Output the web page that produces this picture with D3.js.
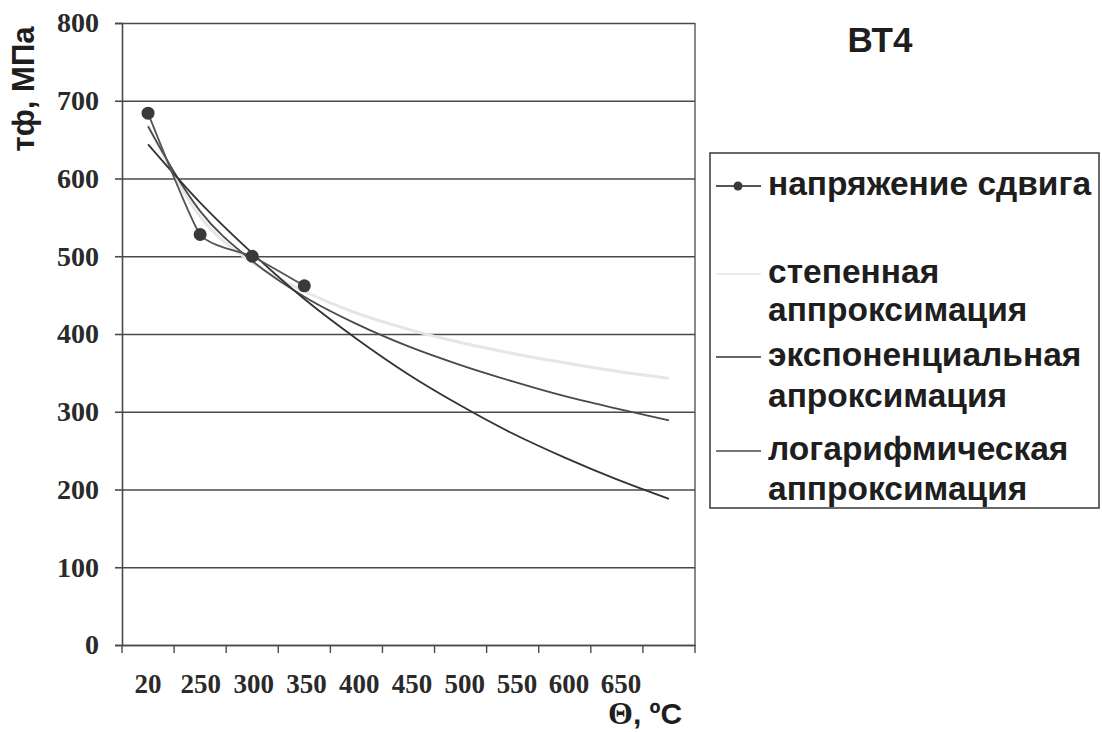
<!DOCTYPE html>
<html>
<head>
<meta charset="utf-8">
<script src="https://cdn.jsdelivr.net/npm/d3@7"></script>
<style>
  html, body { margin: 0; padding: 0; background: #fff; }
  svg { display: block; }
</style>
</head>
<body>
<svg id="chart" width="1102" height="732"></svg>
<script>
// ---- data ----
const categories = ["20", "250", "300", "350", "400", "450", "500", "550", "600", "650", ""];
const shearStress = [684, 528, 500, 462];              // напряжение сдвига (first 4 categories)
const powerTrend  = [668, 551, 492, 455, 427, 406, 389, 375, 363, 352, 343];   // степенная
const expTrend    = [644, 569, 504, 445, 394, 348, 308, 272, 241, 213, 188];   // экспоненциальная
const logTrend    = [667, 558, 494, 448, 413, 384, 360, 339, 320, 304, 289];   // логарифмическая
const yTicks = [0, 100, 200, 300, 400, 500, 600, 700, 800];
const legendItems = [
  { lines: ["напряжение сдвига"], kind: "data" },
  { lines: ["степенная", "аппроксимация"], kind: "power" },
  { lines: ["экспоненциальная", "апроксимация"], kind: "exp" },
  { lines: ["логарифмическая", "аппроксимация"], kind: "log" }
];
const titleText = "ВТ4";
const yTitle = "тф, МПа";

// ---- layout ----
const svg = d3.select("#chart");
const L = 122, R = 695, T = 23, B = 645;
const x = d3.scaleBand().domain(categories).range([L, R]).padding(0);
const y = d3.scaleLinear().domain([0, 800]).range([B, T]);
const cx = i => x(categories[i]) + x.bandwidth() / 2;

const gridColor = "#4a4a4a";

// gridlines
const gGrid = svg.append("g").attr("transform", `translate(${L},0)`)
  .call(d3.axisLeft(y).tickValues(yTicks).tickSize(-(R - L)).tickFormat(""));
gGrid.select(".domain").remove();
gGrid.selectAll("line").attr("stroke", gridColor).attr("stroke-width", 1.6);

// right border
svg.append("line").attr("x1", R).attr("x2", R).attr("y1", T).attr("y2", B)
  .attr("stroke", gridColor).attr("stroke-width", 1.3);

// y axis
const gY = svg.append("g").attr("transform", `translate(${L},0)`)
  .call(d3.axisLeft(y).tickValues(yTicks).tickSize(7).tickPadding(16));
gY.select(".domain").attr("stroke", gridColor).attr("stroke-width", 1.6);
gY.selectAll("line").attr("stroke", gridColor).attr("stroke-width", 1.6);
gY.selectAll("text").attr("font-family", "'Liberation Serif', serif").attr("font-weight", "bold")
  .attr("font-size", 28).attr("fill", "#2a2a2a");

// x axis
const gX = svg.append("g").attr("transform", `translate(0,${B})`)
  .call(d3.axisBottom(x).tickSize(0).tickPadding(29));
gX.select(".domain").attr("stroke", gridColor).attr("stroke-width", 1.6);
gX.selectAll("text").attr("font-family", "'Liberation Serif', serif").attr("font-weight", "bold")
  .attr("font-size", 27).attr("fill", "#2a2a2a")
  .attr("dx", (d, i) => Math.min(i, 6) * 0.7);
const bounds = categories.map(c => x(c)).concat([x.range()[1]]);
svg.append("g").selectAll("line").data(bounds).join("line")
  .attr("x1", d => d).attr("x2", d => d).attr("y1", B).attr("y2", B + 8)
  .attr("stroke", gridColor).attr("stroke-width", 1.4);

// trend lines
const lineGen = d3.line().x((d, i) => cx(i)).y(d => y(d)).curve(d3.curveMonotoneX);
svg.append("path").datum(powerTrend).attr("d", lineGen)
  .attr("fill", "none").attr("stroke", "#e6e6e6").attr("stroke-width", 3);
svg.append("path").datum(logTrend).attr("d", lineGen)
  .attr("fill", "none").attr("stroke", "#4a4a4a").attr("stroke-width", 1.8);
svg.append("path").datum(expTrend).attr("d", lineGen)
  .attr("fill", "none").attr("stroke", "#333").attr("stroke-width", 1.8);

// data series (smoothed line)
const dataLine = d3.line().x((d, i) => cx(i)).y(d => y(d)).curve(d3.curveCardinal.tension(0.5));
svg.append("path").datum(shearStress).attr("d", dataLine)
  .attr("fill", "none").attr("stroke", "#555").attr("stroke-width", 1.8);
svg.append("g").selectAll("circle").data(shearStress).join("circle")
  .attr("cx", (d, i) => cx(i)).attr("cy", d => y(d)).attr("r", 6.5).attr("fill", "#3a3a3a");

// title
svg.append("text").attr("x", 880).attr("y", 52).attr("text-anchor", "middle")
  .attr("font-family", "'Liberation Sans', Arial, sans-serif").attr("font-weight", "bold")
  .attr("font-size", 35).attr("fill", "#1e1e1e").text(titleText);

// y title
svg.append("text").attr("transform", "translate(34,89) rotate(-90)").attr("text-anchor", "middle")
  .attr("font-family", "'Liberation Sans', Arial, sans-serif").attr("font-weight", "bold")
  .attr("font-size", 31).attr("fill", "#1e1e1e").text(yTitle);

// x title
const xt = svg.append("text").attr("x", 608).attr("y", 724)
  .attr("font-weight", "bold").attr("fill", "#1e1e1e");
xt.append("tspan").attr("font-family", "'Liberation Serif', serif").attr("font-size", 32).text("Θ");
xt.append("tspan").attr("font-family", "'Liberation Sans', Arial, sans-serif").attr("font-size", 30).text(", ºC");

// legend
const lg = svg.append("g");
lg.append("rect").attr("x", 710).attr("y", 153).attr("width", 389).attr("height", 355)
  .attr("fill", "#fff").attr("stroke", "#444").attr("stroke-width", 1.6);
const baselines = [[195], [283, 321], [366, 407], [460, 500]];
const symY = [186, 274, 357, 451];
const symStyle = {
  data: { stroke: "#555", w: 1.8 },
  power: { stroke: "#ececec", w: 2 },
  exp: { stroke: "#333", w: 1.6 },
  log: { stroke: "#4a4a4a", w: 1.6 }
};
legendItems.forEach((it, k) => {
  const s = symStyle[it.kind];
  lg.append("line").attr("x1", 716).attr("x2", 761).attr("y1", symY[k]).attr("y2", symY[k])
    .attr("stroke", s.stroke).attr("stroke-width", s.w);
  if (it.kind === "data") {
    lg.append("circle").attr("cx", 738).attr("cy", symY[k]).attr("r", 4.5).attr("fill", "#3a3a3a");
  }
  it.lines.forEach((t, j) => {
    lg.append("text").attr("x", 768).attr("y", baselines[k][j])
      .attr("font-family", "'Liberation Sans', Arial, sans-serif").attr("font-weight", "bold")
      .attr("font-size", 33.5).attr("fill", "#1e1e1e").text(t);
  });
});
</script>
</body>
</html>
